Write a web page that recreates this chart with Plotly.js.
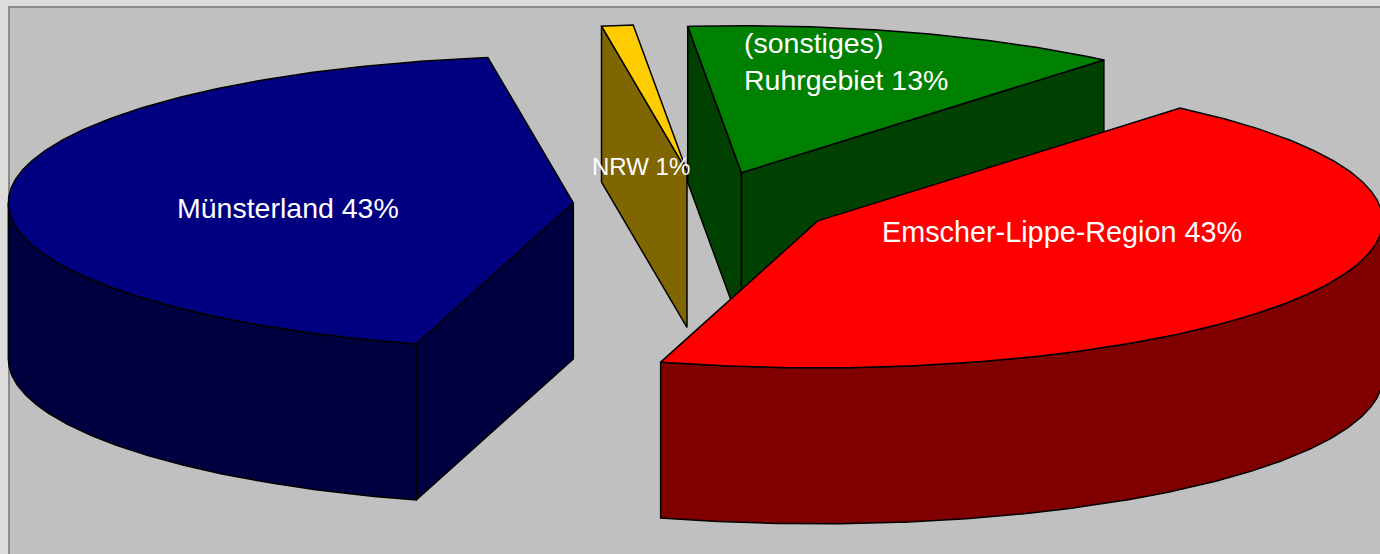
<!DOCTYPE html>
<html><head><meta charset="utf-8">
<script src="https://cdn.plot.ly/plotly-3.0.1.min.js"></script>
<style>html,body{margin:0;padding:0;background:#DCDCDC;} #chart{width:1380px;height:554px;}</style>
</head><body><div id="chart"></div>
<script>
// ---- data ----
const categories = ['Emscher-Lippe-Region', 'Münsterland', 'NRW', '(sonstiges)<br>Ruhrgebiet'];
const values = [43.4, 43.1, 0.9, 12.6];
const topColors = ['#FF0000', '#000080', '#FFCC00', '#008000'];
const sideColors = ['#800000', '#000040', '#806600', '#004000'];

// ---- 3D pie projection settings ----
const W = 1380, H = 554;
const CX = 703, CY = 205, RX = 565, RY = 147, DEPTH = 156, EXPLODE = 0.23, START = -50.1;
const total = values.reduce((a, b) => a + b, 0);
const rad = d => d * Math.PI / 180;

let acc = START;
const slices = values.map((v, i) => {
  const t1 = acc, t2 = acc + v / total * 360; acc = t2;
  const m = (t1 + t2) / 2;
  return { i, t1, t2, m,
    ax: CX + EXPLODE * RX * Math.cos(rad(m)),
    ay: CY + EXPLODE * RY * Math.sin(rad(m)) };
});
function pt(s, t, z) { return [s.ax + RX * Math.cos(rad(t)), s.ay + RY * Math.sin(rad(t)) + z]; }
function arc(s, a, b, z) {
  const n = Math.max(2, Math.ceil(Math.abs(b - a) / 0.5)); const out = [];
  for (let k = 0; k <= n; k++) out.push(pt(s, a + (b - a) * k / n, z));
  return out;
}
function poly(points, fill) {
  const pts = points.concat([points[0]]);
  return { type: 'scatter', mode: 'lines', x: pts.map(p => p[0]), y: pts.map(p => p[1]),
    fill: 'toself', fillcolor: fill, line: { color: '#000', width: 1.5 },
    hoverinfo: 'skip', showlegend: false };
}

const traces = [];
const order = slices.slice().sort((a, b) => a.ay - b.ay);
order.forEach(s => {
  const side = sideColors[s.i];
  const apexTop = [s.ax, s.ay], apexBot = [s.ax, s.ay + DEPTH];
  // radial faces
  if (Math.cos(rad(s.t1)) < 0) traces.push(poly([apexTop, pt(s, s.t1, 0), pt(s, s.t1, DEPTH), apexBot], side));
  if (Math.cos(rad(s.t2)) > 0) traces.push(poly([apexTop, pt(s, s.t2, 0), pt(s, s.t2, DEPTH), apexBot], side));
  // curved outer side (front half only)
  [-1, 0, 1].forEach(k => {
    const lo = Math.max(s.t1, 360 * k), hi = Math.min(s.t2, 360 * k + 180);
    if (hi > lo) traces.push(poly(arc(s, lo, hi, 0).concat(arc(s, hi, lo, DEPTH)), side));
  });
  // top face
  traces.push(poly([apexTop].concat(arc(s, s.t1, s.t2, 0)), topColors[s.i]));
});

// ---- labels ----
const labelShift = [[-5, 23, 'center', 28.8], [-3, -10, 'center', 28.5], [-11, -68, 'center', 24], [-83, 41, 'left', 28.5]];
const annotations = slices.map(s => {
  const pct = Math.round(values[s.i] / total * 100);
  const sh = labelShift[s.i];
  return { x: s.ax + 0.5 * RX * Math.cos(rad(s.m)), y: s.ay + 0.5 * RY * Math.sin(rad(s.m)),
    xref: 'x', yref: 'y', showarrow: false, text: categories[s.i] + ' ' + pct + '%',
    xanchor: sh[2], yanchor: 'middle', align: 'left', xshift: sh[0], yshift: sh[1],
    font: { family: 'Liberation Sans, Arial, sans-serif', size: sh[3], color: '#FFFFFF' } };
});

const layout = {
  width: W, height: H, margin: { l: 0, r: 0, t: 0, b: 0 },
  paper_bgcolor: '#DCDCDC', plot_bgcolor: 'rgba(0,0,0,0)',
  xaxis: { range: [0, W], visible: false, fixedrange: true },
  yaxis: { range: [H, 0], visible: false, fixedrange: true },
  shapes: [{ type: 'rect', xref: 'x', yref: 'y', x0: 9, y0: 7, x1: W + 20, y1: H + 20,
    fillcolor: '#C0C0C0', line: { color: '#8C8C8C', width: 2 }, layer: 'below' }],
  annotations: annotations, showlegend: false
};
Plotly.newPlot('chart', traces, layout, { displayModeBar: false, staticPlot: true });
</script>
</body></html>
